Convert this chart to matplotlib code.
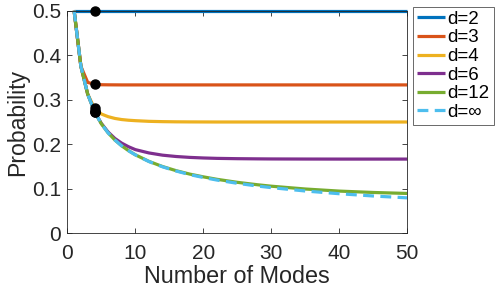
import matplotlib
matplotlib.use("Agg")
import matplotlib.pyplot as plt

modes = [1, 2, 3, 4, 5, 6, 7, 8, 9, 10, 12, 14, 16, 18, 20, 22, 25, 28, 30, 35, 40, 45, 50]

p_d2 = [0.5] * len(modes)
p_d3 = [0.5, 0.375, 0.339, 0.3345, 0.3337, 0.3335, 0.3334, 0.3333, 0.3333, 0.3333, 0.3333, 0.3333,
        0.3333, 0.3333, 0.3333, 0.3333, 0.3333, 0.3333, 0.3333, 0.3333, 0.3333, 0.3333, 0.3333]
p_d4 = [0.5, 0.375, 0.3125, 0.281, 0.268, 0.262, 0.258, 0.2555, 0.254, 0.253, 0.2515, 0.2508,
        0.2504, 0.2502, 0.2501, 0.25, 0.25, 0.25, 0.25, 0.25, 0.25, 0.25, 0.25]
p_d6 = [0.5, 0.375, 0.3125, 0.2736, 0.247, 0.2275, 0.213, 0.2025, 0.1945, 0.188, 0.1805, 0.1755,
        0.1725, 0.1705, 0.1692, 0.1683, 0.1676, 0.1672, 0.167, 0.1668, 0.1667, 0.1667, 0.1667]
p_d12 = [0.5, 0.375, 0.3125, 0.2734, 0.2461, 0.2256, 0.2095, 0.1964, 0.1856, 0.1764, 0.1616, 0.1500,
         0.1407, 0.1330, 0.1268, 0.1213, 0.1145, 0.1090, 0.1058, 0.0995, 0.0948, 0.0917, 0.0895]
p_inf = [0.5, 0.375, 0.3125, 0.2734, 0.2461, 0.2256, 0.2095, 0.1964, 0.1855, 0.1762, 0.1612, 0.1494,
         0.1399, 0.1318, 0.1254, 0.1196, 0.1123, 0.1061, 0.1026, 0.0950, 0.0889, 0.0838, 0.0796]

dot_x = [4, 4, 4, 4, 4, 4]
dot_y = [0.5, 0.3345, 0.281, 0.2736, 0.2734, 0.2734]

labels = ["d=2", "d=3", "d=4", "d=6", "d=12", "d=\u221e"]
colors = ["#0072BD", "#D95319", "#EDB120", "#7E2F8E", "#77AC30", "#4DBEEE"]

plt.rcParams['font.family'] = ['Liberation Sans', 'DejaVu Sans']

fig = plt.figure(figsize=(4.98, 2.92), dpi=100)
ax_l, ax_r, ax_t, ax_b = 67.3, 407.3, 10.7, 233.3
ax = fig.add_axes([ax_l / 498, (292 - ax_b) / 292, (ax_r - ax_l) / 498, (ax_b - ax_t) / 292])
ax_h = ax_b - ax_t
ax_w = ax_r - ax_l

lw = 2.3
series = [p_d2, p_d3, p_d4, p_d6, p_d12]
for ys, lab, c in zip(series, labels[:5], colors[:5]):
    ax.plot(modes, ys, color=c, lw=lw, label=lab, clip_on=False, solid_capstyle='butt')
ax.plot(modes, p_inf, color=colors[5], lw=lw, label=labels[5], dashes=(3.4, 2.0),
        clip_on=False)
ax.plot(dot_x, dot_y, 'o', color='black', ms=6.5, clip_on=False, zorder=5)

ax.set_xlim(0, 50)
ax.set_ylim(0, 0.5)
ax.set_xticks([0, 10, 20, 30, 40, 50])
ax.set_yticks([0, 0.1, 0.2, 0.3, 0.4, 0.5])
ax.set_yticklabels(["0", "0.1", "0.2", "0.3", "0.4", "0.5"])
ax.tick_params(direction='in', top=True, right=True, length=3.5, width=0.6,
               labelsize=15, colors='#262626')
ax.tick_params(axis='x', pad=8)
ax.tick_params(axis='y', pad=4.5)
for s in ax.spines.values():
    s.set_linewidth(0.6)
    s.set_color('#262626')
ax.set_xlabel("Number of Modes", fontsize=16.8, color='#262626', va='baseline')
ax.xaxis.set_label_coords(0.5, -(283 - ax_b) / ax_h)
ax.set_ylabel("Probability", fontsize=16.6, color='#262626', va='baseline')
ax.yaxis.set_label_coords(-(ax_l - 24.5) / ax_w, (ax_b - 122) / ax_h)

leg = ax.legend(loc='upper left', bbox_to_anchor=(413 / 498, 1 - 7 / 292),
                bbox_transform=fig.transFigure, fontsize=13.5, frameon=True, fancybox=False,
                edgecolor='#262626', handlelength=1.5, handletextpad=0.15,
                borderpad=0.2, labelspacing=0.08, borderaxespad=0)
leg.get_frame().set_linewidth(0.6)

fig.savefig("out.png", dpi=100)
